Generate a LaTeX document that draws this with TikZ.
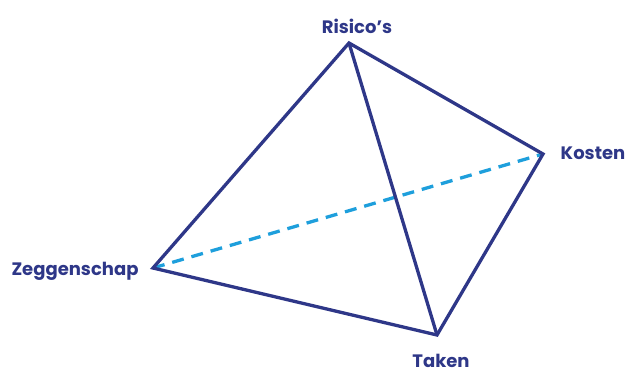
\documentclass[tikz,border=0pt]{standalone}
\usepackage{fontspec}
\setmainfont{Poppins}
\definecolor{navy}{HTML}{2E3788}
\definecolor{lichtblauw}{HTML}{1E9FDC}
\tikzset{
  hoek/.style={text=navy, anchor=base, font=\bfseries\fontsize{18}{18}\selectfont, inner sep=0pt},
  ribbe/.style={navy, line width=3.3pt, line join=miter},
  verborgen/.style={lichtblauw, line width=3.3pt, dash pattern=on 12pt off 8pt}
}
\begin{document}
\begin{tikzpicture}[x=1pt,y=-1pt]
    \useasboundingbox (0,0) rectangle (627,372);
    \draw (349,43) coordinate(risico);
    \draw (543,154) coordinate(kosten);
    \draw (153,268) coordinate(zeggen);
    \draw (437,335) coordinate(taken);
    \draw (357,33) node[hoek](lrisico) {Risico’s};
    \draw (593,159) node[hoek](lkosten) {Kosten};
    \draw (75,275) node[hoek](lzeggen) {Zeggenschap};
    \draw (441,367) node[hoek](ltaken) {Taken};
    \draw[verborgen] (zeggen) -- (kosten);
    \draw[ribbe] (zeggen) -- (risico) -- (kosten) -- (taken) -- cycle;
    \draw[ribbe] (risico) -- (taken);
\end{tikzpicture}
\end{document}
